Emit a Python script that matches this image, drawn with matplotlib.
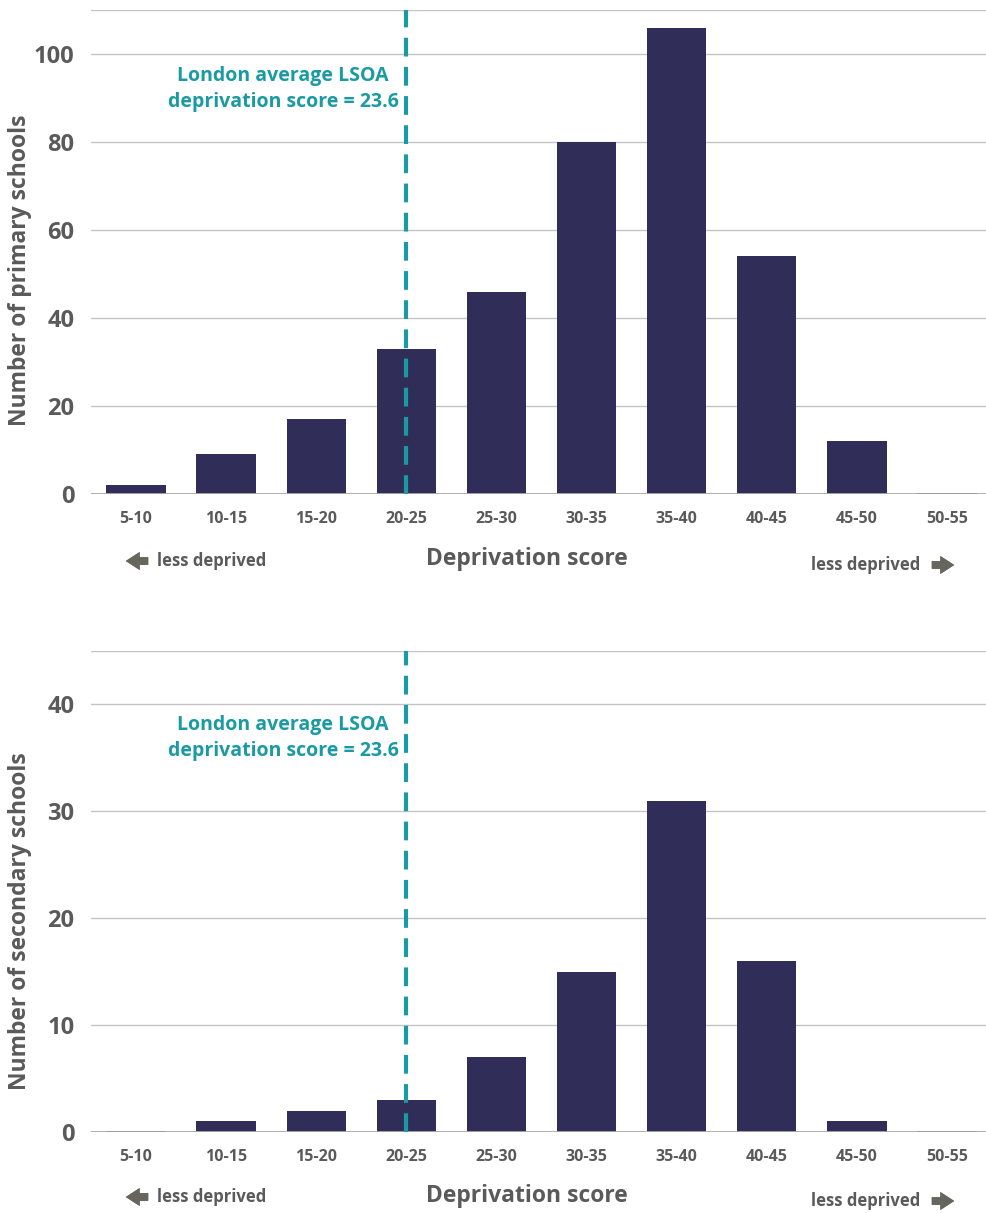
import matplotlib
matplotlib.use('Agg')
import matplotlib.pyplot as plt
import numpy as np

plt.rcParams['font.family'] = ['Open Sans', 'DejaVu Sans']
plt.rcParams['font.weight'] = 'bold'

# data
bins = ['5-10', '10-15', '15-20', '20-25', '25-30', '30-35', '35-40', '40-45', '45-50', '50-55']
primary = [2, 9, 17, 33, 46, 80, 106, 54, 12, 0.3]
secondary = [0.1, 1, 2, 3, 7, 15, 31, 16, 1, 0.1]
london_avg_pos = 3.0   # dashed line sits on the 20-25 bar
primary_ticks = [0, 20, 40, 60, 80, 100, 110]
secondary_ticks = [0, 10, 20, 30, 40, 45]

W, H = 987, 1213
bar_col = '#302d59'
teal = '#1a9aa3'
grey = '#5a5a5a'
grid_col = '#c4c4c4'

fig = plt.figure(figsize=(W / 100, H / 100), dpi=100)

def fx(x):
    return x / W

def fy(y):
    return 1 - y / H

def panel(top, bottom, vals, ticks, ylabel, ylab_y, ann_y, lab_y, arr_y):
    ax = fig.add_axes([fx(91), fy(bottom), fx(992) - fx(91), fy(top) - fy(bottom)])
    x = np.arange(len(bins))
    ax.bar(x, vals, width=0.66, color=bar_col, zorder=3)
    ax.set_xlim(-0.5, 9.5)
    ax.set_ylim(0, ticks[-1])
    ax.set_yticks(ticks)
    ax.set_yticklabels([str(t) for t in ticks[:-1]] + [''])
    ax.set_xticks(x)
    ax.set_xticklabels(bins)
    ax.tick_params(axis='both', length=0, colors=grey)
    ax.tick_params(axis='y', labelsize=17, pad=12)
    ax.tick_params(axis='x', labelsize=11.5, pad=12)
    for s in ax.spines.values():
        s.set_visible(False)
    ax.grid(axis='y', color=grid_col, lw=1, zorder=0)
    ax.axhline(0, color='#aaaaaa', lw=2, zorder=4)
    ax.axvline(london_avg_pos, color=teal, lw=3, ls=(0, (4.5, 2.5)), zorder=5)
    ax.set_ylabel(ylabel, fontsize=16.5, color=grey, fontweight='bold', va='center')
    ax.yaxis.set_label_coords((20 - 91) / 901, (bottom - ylab_y) / (bottom - top))
    fig.text(fx(283), fy(ann_y), 'London average LSOA\ndeprivation score = 23.6',
             color=teal, fontsize=14, ha='center', va='center', linespacing=1.4)
    fig.text(fx(527), fy(lab_y), 'Deprivation score', color=grey, fontsize=16.5,
             ha='center', va='center')
    fig.text(fx(157), fy(arr_y), 'less deprived', color=grey, fontsize=12,
             ha='left', va='center')
    fig.text(fx(920), fy(arr_y + 4), 'less deprived', color=grey, fontsize=12,
             ha='right', va='center')
    arrow = dict(arrowstyle='simple,head_width=1.3,head_length=1.0,tail_width=0.55',
                 color='#66665f', lw=0)
    fig.add_artist(plt.annotate('', xy=(fx(123), fy(arr_y)), xytext=(fx(151), fy(arr_y)),
                                xycoords='figure fraction', arrowprops=arrow))
    fig.add_artist(plt.annotate('', xy=(fx(957), fy(arr_y + 4)), xytext=(fx(929), fy(arr_y + 4)),
                                xycoords='figure fraction', arrowprops=arrow))
    return ax

panel(10, 494, primary, primary_ticks, 'Number of primary schools', 270, 89, 559, 561)
panel(651, 1132, secondary, secondary_ticks, 'Number of secondary schools', 921, 738, 1196, 1197)

fig.savefig('out.png', dpi=100)
